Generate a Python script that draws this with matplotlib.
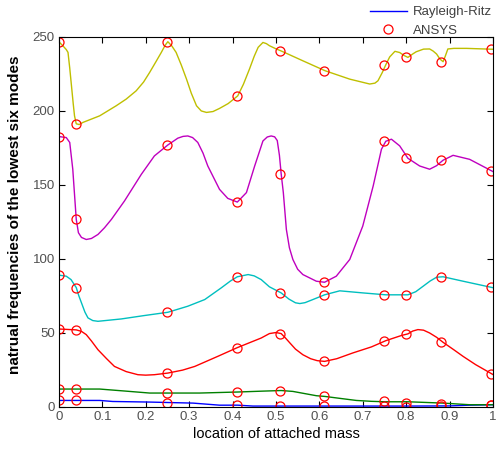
import matplotlib.pyplot as plt

plt.rcParams['font.family'] = ['Liberation Sans', 'DejaVu Sans']

# ANSYS results (markers)
ansys_x = [0, 0.04, 0.25, 0.41, 0.51, 0.61, 0.75, 0.80, 0.88, 0.995]
ansys_m1 = [4.3, 4.3, 2.9, 1.4, 0.7, 0.7, 0.5, 0.2, 0.5, 1.4]
ansys_m2 = [12.2, 12.2, 9.3, 9.7, 10.8, 7.5, 3.6, 2.9, 2.0, 1.4]
ansys_m3 = [52.6, 52.0, 22.8, 40.0, 49.5, 30.7, 44.7, 49.3, 43.6, 22.4]
ansys_m4 = [89.0, 80.6, 63.9, 87.9, 77.0, 75.7, 75.7, 75.7, 87.9, 80.8]
ansys_m5 = [182.7, 126.7, 177.0, 138.4, 157.6, 84.2, 179.5, 168.0, 166.7, 159.4]
ansys_m6 = [246.8, 191.3, 246.8, 210.2, 240.3, 227.2, 231.2, 236.2, 233.3, 241.7]

# Rayleigh-Ritz curves
rr1_x = [0, 0.094, 0.124, 0.209, 0.251, 0.309, 0.37, 0.412, 0.447, 0.515, 0.6, 0.7, 0.8, 0.9, 0.946, 1.0]
rr1_y = [4.3, 4.3, 3.6, 3.2, 2.9, 2.5, 1.1, 1.1, 0.5, 0.5, 0.5, 0.5, 0.5, 0.6, 1.1, 1.4]

rr2_x = [0, 0.04, 0.094, 0.15, 0.209, 0.251, 0.324, 0.412, 0.47, 0.512, 0.539, 0.565, 0.593, 0.613,
         0.65, 0.685, 0.72, 0.753, 0.804, 0.885, 0.946, 1.0]
rr2_y = [12.0, 12.0, 12.0, 10.7, 9.3, 9.3, 9.3, 10.0, 10.6, 11.0, 10.4, 9.0, 7.5, 7.0,
         5.6, 4.3, 3.7, 3.4, 3.4, 2.5, 1.4, 1.4]

rr3_x = [0, 0.04, 0.052, 0.063, 0.075, 0.09, 0.11, 0.128, 0.155, 0.182, 0.2, 0.22, 0.251, 0.285,
         0.313, 0.366, 0.411, 0.466, 0.485, 0.5, 0.512, 0.522, 0.532, 0.545, 0.562, 0.58, 0.595,
         0.612, 0.64, 0.677, 0.72, 0.753, 0.79, 0.804, 0.815, 0.827, 0.84, 0.854, 0.87, 0.885,
         0.91, 0.931, 0.96, 1.0]
rr3_y = [52.6, 52.0, 51.0, 48.8, 44.5, 38.6, 32.5, 27.3, 23.8, 21.7, 21.4, 21.7, 22.8, 24.8,
         27.3, 34.1, 40.0, 46.5, 49.5, 50.2, 49.5, 46.5, 43.2, 39.0, 35.2, 32.5, 31.2,
         30.7, 32.5, 36.4, 40.5, 44.7, 48.3, 49.3, 51.2, 52.2, 51.8, 49.9, 47.0, 43.6,
         38.5, 34.1, 28.5, 21.8]

rr4_x = [0, 0.017, 0.028, 0.04, 0.046, 0.052, 0.06, 0.067, 0.078, 0.09, 0.144, 0.197, 0.251,
         0.297, 0.336, 0.374, 0.395, 0.411, 0.436, 0.45, 0.466, 0.485, 0.512, 0.53, 0.545,
         0.555, 0.567, 0.585, 0.612, 0.647, 0.7, 0.753, 0.804, 0.822, 0.839, 0.855, 0.87,
         0.885, 0.931, 1.0]
rr4_y = [89.0, 88.3, 86.0, 80.6, 75.0, 70.3, 64.0, 60.1, 58.3, 57.8, 59.4, 61.7, 63.9,
         68.0, 72.5, 80.4, 85.0, 87.9, 89.4, 88.5, 86.0, 81.1, 77.0, 72.8, 70.3,
         69.8, 70.4, 72.5, 75.7, 78.4, 77.0, 75.7, 75.7, 77.8, 81.5, 85.0, 87.6,
         87.9, 84.9, 80.5]

rr5_x = [0, 0.017, 0.025, 0.032, 0.04, 0.045, 0.052, 0.063, 0.075, 0.09, 0.105, 0.121, 0.151,
         0.19, 0.22, 0.251, 0.274, 0.286, 0.297, 0.308, 0.32, 0.332, 0.343, 0.37, 0.389, 0.411,
         0.432, 0.451, 0.47, 0.48, 0.489, 0.497, 0.503, 0.508, 0.512, 0.517, 0.524, 0.531,
         0.539, 0.55, 0.562, 0.593, 0.612, 0.639, 0.67, 0.7, 0.724, 0.743, 0.753, 0.766,
         0.785, 0.804, 0.831, 0.854, 0.87, 0.885, 0.908, 0.946, 1.0]
rr5_y = [182.7, 182.0, 178.7, 160.6, 126.7, 117.7, 114.5, 113.1, 113.8, 116.5, 121.0, 126.7, 139.1,
         157.2, 169.6, 177.0, 181.6, 182.8, 183.1, 182.0, 178.7, 171.5, 162.8, 147.0, 140.9, 138.4,
         144.8, 162.8, 179.7, 182.4, 183.1, 182.5, 180.0, 170.0, 157.6, 144.8, 119.9, 107.5,
         99.6, 93.0, 89.4, 84.9, 84.2, 88.3, 99.6, 122.2, 149.3, 174.1, 179.5, 180.9,
         176.4, 168.0, 162.8, 160.6, 163.0, 166.7, 170.0, 167.3, 159.0]

rr6_x = [0, 0.009, 0.017, 0.021, 0.025, 0.029, 0.033, 0.036, 0.04, 0.047, 0.055, 0.094, 0.132,
         0.155, 0.178, 0.195, 0.209, 0.223, 0.236, 0.245, 0.251, 0.26, 0.27, 0.282, 0.294,
         0.305, 0.317, 0.328, 0.34, 0.355, 0.37, 0.39, 0.412, 0.425, 0.439, 0.45, 0.459,
         0.47, 0.478, 0.485, 0.5, 0.514, 0.562, 0.613, 0.67, 0.716, 0.728, 0.735, 0.745,
         0.753, 0.762, 0.774, 0.785, 0.795, 0.804, 0.815, 0.823, 0.84, 0.854, 0.862, 0.87,
         0.878, 0.885, 0.89, 0.896, 0.91, 0.939, 1.0]
rr6_y = [246.8, 244.1, 241.5, 239.6, 229.0, 217.0, 205.0, 196.7, 191.3, 190.8, 192.2, 196.7, 203.5,
         208.0, 213.6, 219.5, 226.0, 233.0, 239.6, 244.5, 246.8, 244.0, 239.6, 231.0, 221.5,
         212.0, 203.5, 200.0, 199.0, 199.6, 201.7, 205.0, 210.2, 218.0, 228.3, 237.0, 243.0,
         246.3, 245.5, 244.1, 242.0, 240.3, 233.9, 227.2, 221.5, 218.2, 218.8, 220.4, 226.0,
         231.2, 236.5, 240.3, 239.5, 237.5, 236.2, 238.5, 240.0, 241.8, 241.9, 240.5, 238.5,
         235.0, 233.3, 237.0, 241.9, 242.3, 242.3, 241.7]

curves = [
    (rr1_x, rr1_y, ansys_m1, '#0000ff'),
    (rr2_x, rr2_y, ansys_m2, '#008000'),
    (rr3_x, rr3_y, ansys_m3, '#ff0000'),
    (rr4_x, rr4_y, ansys_m4, '#00bfbf'),
    (rr5_x, rr5_y, ansys_m5, '#bf00bf'),
    (rr6_x, rr6_y, ansys_m6, '#bfbf00'),
]

fig = plt.figure(figsize=(4.99, 4.51), dpi=100)
ax = fig.add_axes([0.118, 0.098, 0.870, 0.820])

for i, (cx, cy, ay, col) in enumerate(curves):
    ax.plot(cx, cy, color=col, lw=1.0, label='Rayleigh-Ritz' if i == 0 else None)
for i, (cx, cy, ay, col) in enumerate(curves):
    ax.plot(ansys_x, ay, 'o', mfc='none', mec='#ff0000', ms=6.5, mew=0.9,
            label='ANSYS' if i == 0 else None)

ax.set_xlim(0, 1)
ax.set_ylim(0, 250)
ax.set_xticks([i / 10 for i in range(11)])
ax.set_xticklabels(['0', '0.1', '0.2', '0.3', '0.4', '0.5', '0.6', '0.7', '0.8', '0.9', '1'])
ax.set_yticks([0, 50, 100, 150, 200, 250])
ax.tick_params(direction='in', top=True, right=True, length=4, width=0.8,
               labelsize=9.5, labelcolor='#505050', pad=3)
for s in ax.spines.values():
    s.set_linewidth(0.8)

ax.set_xlabel('location of attached mass', fontsize=10.5, labelpad=3)
ax.set_ylabel('natrual frequencies of the lowest six modes', fontsize=11, fontweight='bold')
ax.yaxis.set_label_coords(-0.085, 0.52)

ax.legend(loc='upper left', bbox_to_anchor=(370 / 499, 1 - 6 / 451), bbox_transform=fig.transFigure,
          frameon=False, fontsize=9.5, borderpad=0, borderaxespad=0, handlelength=2.8,
          handletextpad=0.45, labelspacing=0.5, labelcolor='#404040')

fig.savefig('out.png', dpi=100)
